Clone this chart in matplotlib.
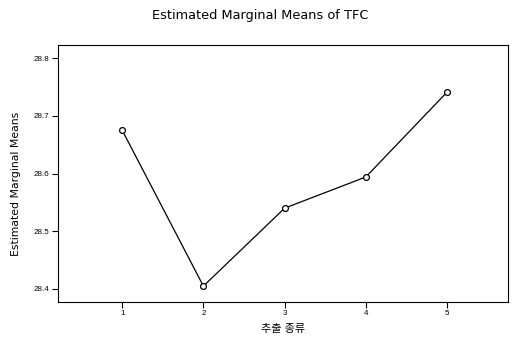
import matplotlib.pyplot as plt

plt.rcParams['font.family'] = ['Liberation Sans', 'Noto Sans CJK KR', 'DejaVu Sans']

# estimated marginal means of TFC per group
groups = [1, 2, 3, 4, 5]
means = [28.675, 28.405, 28.540, 28.594, 28.741]
y_ticks = [28.4, 28.5, 28.6, 28.7, 28.8]

fig = plt.figure(figsize=(5.16, 3.41), dpi=100)
ax = fig.add_axes([0.1124, 0.1144, 0.8721, 0.7536])

ax.plot(groups, means, color='black', linewidth=0.9,
        marker='o', markersize=4.2, markerfacecolor='white',
        markeredgecolor='black', markeredgewidth=0.9)

ax.set_xlim(0.21, 5.75)
ax.set_ylim(28.3775, 28.8225)
ax.set_xticks(groups)
ax.set_yticks(y_ticks)
ax.set_yticklabels([f'{v:.1f}' for v in y_ticks])

ax.tick_params(axis='both', direction='out', length=4, width=0.8,
               labelsize=5.8, pad=2)
for side in ax.spines.values():
    side.set_linewidth(0.8)

ax.set_xlabel('추출 종류', fontsize=8, labelpad=5)
ax.set_ylabel('Estimated Marginal Means', fontsize=7.8,
              family=['DejaVu Sans'])
ax.yaxis.set_label_coords(-0.083, 0.46)
fig.text(0.505, 0.955, 'Estimated Marginal Means of TFC', ha='center',
         va='center', fontsize=9.3, family=['DejaVu Sans'])

fig.savefig('out.png', dpi=100)
